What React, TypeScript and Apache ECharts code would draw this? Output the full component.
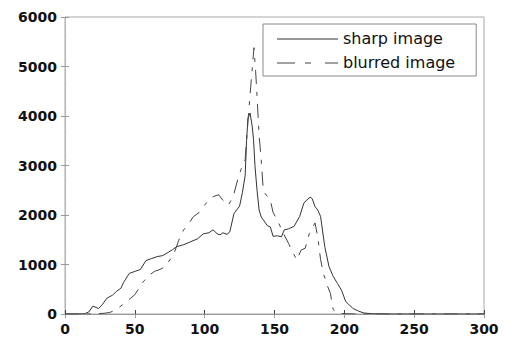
import React, { useEffect, useRef } from "react";
import * as echarts from "echarts";

const xTicks = [0, 50, 100, 150, 200, 250, 300];
const yTicks = [0, 1000, 2000, 3000, 4000, 5000, 6000];

const sharpX = [0, 8, 14, 17, 20, 24, 27, 30, 34, 37, 40, 42, 46, 50, 54, 58, 62, 66, 70, 73, 77, 80, 85, 90, 95, 99, 103, 106, 109, 111, 113, 116, 118, 121, 125, 127, 129, 130, 131, 132.5, 134, 135, 136, 137.5, 139, 140.5, 142, 145, 147, 149, 152, 155, 157, 160, 164, 168, 171, 173, 175.5, 177, 179, 181, 183, 186, 189, 192, 195, 198, 201, 203, 206, 210, 214, 220, 230, 300];
const sharpY = [0, 0, 5, 40, 160, 110, 200, 320, 380, 460, 520, 640, 820, 860, 900, 1080, 1120, 1160, 1180, 1230, 1300, 1360, 1400, 1460, 1520, 1620, 1640, 1700, 1620, 1600, 1640, 1610, 1660, 2030, 2180, 2450, 2800, 3500, 3950, 4060, 3800, 3520, 3000, 2500, 2100, 1960, 1900, 1780, 1760, 1570, 1580, 1560, 1700, 1720, 1770, 1970, 2240, 2300, 2360, 2330, 2170, 2100, 1970, 1360, 960, 760, 620, 480, 250, 200, 115, 60, 20, 5, 0, 0];

const blurredX = [0, 20, 28, 32, 36, 40, 44, 50, 56, 60, 64, 68, 72, 78, 82, 85, 88, 92, 96, 100, 103, 106, 110, 113, 117, 120.5, 124, 127, 129, 131, 133, 135.3, 136.5, 137.5, 139, 140.5, 142, 147, 149, 152, 156, 160, 163, 166, 169, 172, 175, 179, 181, 183, 185, 188, 190, 192, 195, 200, 210, 300];
const blurredY = [0, 0, 15, 30, 80, 160, 250, 390, 650, 780, 860, 900, 960, 1220, 1530, 1700, 1800, 1970, 2050, 2200, 2300, 2370, 2410, 2300, 2200, 2380, 2750, 3000, 3120, 3900, 4600, 5380, 4900, 4400, 3600, 3110, 2480, 2300, 2050, 1900, 1650, 1430, 1250, 1090, 1290, 1330, 1630, 1840, 1550, 1100, 820, 560, 420, 90, 20, 5, 0, 0];

const seriesNames = ["sharp image", "blurred image"];

function pairs(xs: number[], ys: number[]) {
  return xs.map((x, i) => [x, ys[i]]);
}

export default function App() {
  const ref = useRef<HTMLDivElement>(null);
  useEffect(() => {
    if (!ref.current) return;
    const chart = echarts.init(ref.current, undefined, { renderer: "svg" });
    const labelStyle = {
      color: "#111",
      fontFamily: "DejaVu Sans",
      fontWeight: "bold" as const,
      fontSize: 14,
      formatter: (v: number) => String(v),
    };
    const xMin = xTicks[0];
    const xMax = xTicks[xTicks.length - 1];
    const yMin = yTicks[0];
    const yMax = yTicks[yTicks.length - 1];
    const sharpLine = { color: "#333", width: 1 };
    const blurredLine = { color: "#444", width: 1, type: [14, 8, 4, 8] };
    chart.setOption({
      animation: false,
      backgroundColor: "#fff",
      grid: {
        left: 65,
        right: 21,
        top: 17,
        bottom: 24,
        show: true,
        borderColor: "#aaa",
        borderWidth: 1,
      },
      legend: {
        data: seriesNames.map((n) => ({ name: n, icon: "none" })),
        orient: "vertical",
        left: 263,
        top: 24,
        itemWidth: 61,
        itemHeight: 14,
        itemGap: 8,
        padding: [6, 21, 6, 14],
        borderColor: "#888",
        borderWidth: 1,
        backgroundColor: "#fff",
        textStyle: {
          color: "#111",
          fontFamily: "DejaVu Sans",
          fontSize: 16,
        },
      },
      graphic: [
        {
          type: "line",
          z: 100,
          shape: { x1: 277, y1: 39, x2: 338, y2: 39 },
          style: { stroke: sharpLine.color, lineWidth: 1 },
        },
        {
          type: "line",
          z: 100,
          shape: { x1: 277, y1: 63, x2: 338, y2: 63 },
          style: { stroke: blurredLine.color, lineWidth: 1, lineDash: [18, 10, 6, 14] },
        },
      ],
      xAxis: [
        {
          type: "value",
          min: xMin,
          max: xMax,
          interval: 50,
          axisLine: { show: true, lineStyle: { color: "#444", width: 1 } },
          axisTick: { show: true, inside: true, length: 4, lineStyle: { color: "#444" } },
          axisLabel: { ...labelStyle, margin: 8 },
          splitLine: { show: false },
        },
        {
          type: "value",
          position: "top",
          min: xMin,
          max: xMax,
          interval: 50,
          axisLine: { show: true, lineStyle: { color: "#999", width: 1 } },
          axisTick: { show: true, inside: true, length: 4, lineStyle: { color: "#999" } },
          axisLabel: { show: false },
          splitLine: { show: false },
        },
      ],
      yAxis: [
        {
          type: "value",
          min: yMin,
          max: yMax,
          interval: 1000,
          axisLine: { show: true, lineStyle: { color: "#999", width: 1, type: "dashed" } },
          axisTick: { show: true, inside: true, length: 4, lineStyle: { color: "#999" } },
          axisLabel: { ...labelStyle, margin: 8 },
          splitLine: { show: false },
        },
        {
          type: "value",
          position: "right",
          min: yMin,
          max: yMax,
          interval: 1000,
          axisLine: { show: true, lineStyle: { color: "#bbb", width: 1, type: "dotted" } },
          axisTick: { show: true, inside: true, length: 4, lineStyle: { color: "#999" } },
          axisLabel: { show: false },
          splitLine: { show: false },
        },
      ],
      series: [
        {
          name: seriesNames[0],
          type: "line",
          data: pairs(sharpX, sharpY),
          symbol: "none",
          showSymbol: false,
          lineStyle: sharpLine,
          itemStyle: { color: sharpLine.color },
        },
        {
          name: seriesNames[1],
          type: "line",
          data: pairs(blurredX, blurredY),
          symbol: "none",
          showSymbol: false,
          lineStyle: blurredLine,
          itemStyle: { color: blurredLine.color },
        },
      ],
    });
    return () => chart.dispose();
  }, []);
  return <div ref={ref} style={{ width: 505, height: 338, position: "absolute", left: 0, top: 0 }} />;
}
